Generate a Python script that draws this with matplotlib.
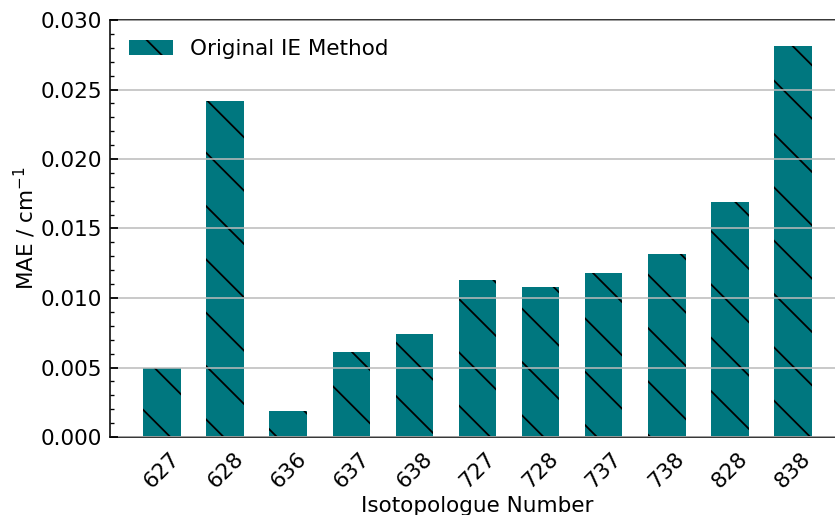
import matplotlib
matplotlib.use("Agg")
import matplotlib.pyplot as plt
from matplotlib.ticker import MultipleLocator

isotopologues = ["627", "628", "636", "637", "638", "727", "728", "737", "738", "828", "838"]
mae = [0.0050, 0.0242, 0.0019, 0.0061, 0.0074, 0.0113, 0.0108, 0.0118, 0.0132, 0.0169, 0.0281]

DPI = 160
plt.rcParams["font.size"] = 9.7
plt.rcParams["hatch.linewidth"] = 0.8
plt.rcParams["axes.linewidth"] = 0.7

fig = plt.figure(figsize=(835 / DPI, 515 / DPI), dpi=DPI)
ax = fig.add_axes([110 / 835, 78 / 515, 735 / 835, 417 / 515])

x = range(len(isotopologues))
ax.bar(x, mae, width=0.6, color="#00777f", edgecolor="black", linewidth=0,
       hatch="\\", label="Original IE Method")

ax.set_xlim(-0.83, 10.83)
ax.set_ylim(0, 0.030)
ax.set_xticks(list(x))
ax.set_xticklabels(isotopologues, rotation=45)
ax.yaxis.set_major_locator(MultipleLocator(0.005))
ax.yaxis.set_minor_locator(MultipleLocator(0.001))
ax.tick_params(direction="in", which="both", right=True)
ax.tick_params(axis="x", length=0, pad=5)
ax.yaxis.grid(True, color="#bbbbbb", linewidth=0.7)
ax.set_axisbelow(False)

ax.set_xlabel("Isotopologue Number", labelpad=2)
ax.set_ylabel("MAE / cm$^{-1}$", labelpad=1)
ax.legend(loc="upper left", frameon=False)

fig.savefig("out.png", dpi=DPI)
